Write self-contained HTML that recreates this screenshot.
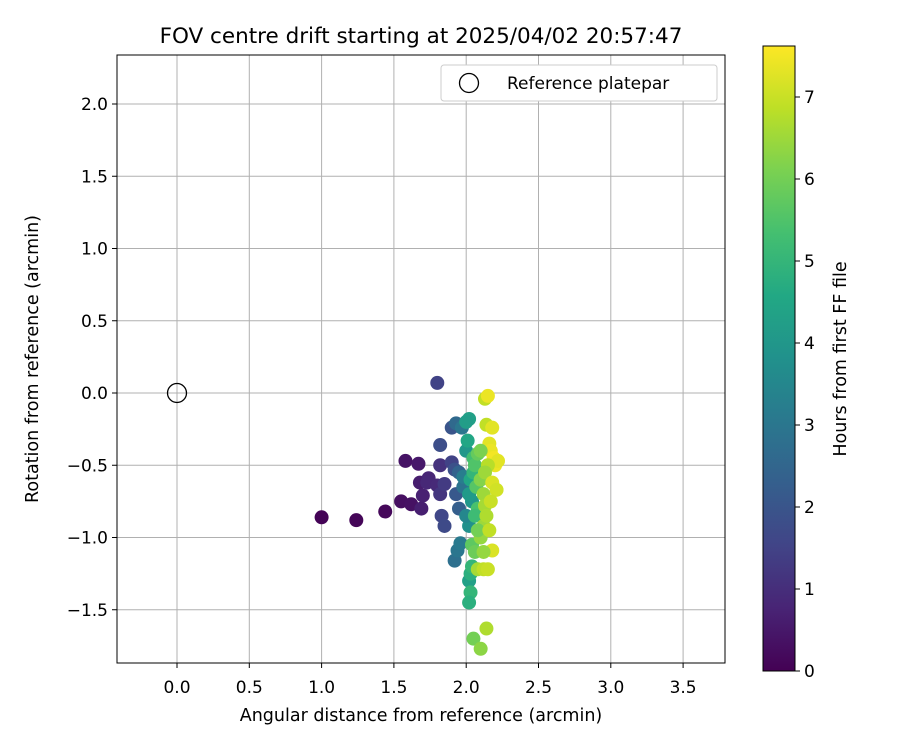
<!DOCTYPE html>
<html><head><meta charset="utf-8"><style>
body{margin:0;background:#fff;font-family:"DejaVu Sans","Liberation Sans",sans-serif}
</style></head><body>
<svg id="chart" width="900" height="750" xmlns="http://www.w3.org/2000/svg" font-family="DejaVu Sans, Liberation Sans, sans-serif">
<defs>
<linearGradient id="vir" x1="0" y1="1" x2="0" y2="0">
<stop offset="0" stop-color="#440154"/><stop offset="0.1" stop-color="#482475"/><stop offset="0.2" stop-color="#414487"/><stop offset="0.3" stop-color="#355f8d"/><stop offset="0.4" stop-color="#2a788e"/><stop offset="0.5" stop-color="#21918c"/><stop offset="0.6" stop-color="#22a884"/><stop offset="0.7" stop-color="#44bf70"/><stop offset="0.8" stop-color="#7ad151"/><stop offset="0.9" stop-color="#bddf26"/><stop offset="1" stop-color="#fde725"/>
</linearGradient>
</defs>
<text x="421" y="43" text-anchor="middle" font-size="21.5">FOV centre drift starting at 2025/04/02 20:57:47</text>
<g id="grid"></g>
<g id="marks"></g>
<rect x="117" y="55" width="608" height="608" fill="none" stroke="#000" stroke-width="1"/>
<g id="ticks"></g>
<text x="421" y="721" text-anchor="middle" font-size="17.5">Angular distance from reference (arcmin)</text>
<text transform="translate(38,359) rotate(-90)" text-anchor="middle" font-size="17.5">Rotation from reference (arcmin)</text>
<g>
<rect x="441" y="65" width="276" height="36" rx="3" fill="#fff" stroke="#ccc"/>
<circle cx="469" cy="83" r="9.5" fill="none" stroke="#000" stroke-width="1.3"/>
<text x="507" y="89" font-size="17">Reference platepar</text>
</g>
<rect x="763" y="46" width="32" height="625" fill="url(#vir)" stroke="#000" stroke-width="1"/>
<g id="cticks"></g>
<text transform="translate(846,359) rotate(-90)" text-anchor="middle" font-size="17.5">Hours from first FF file</text>
</svg>
<script>
const xTicks=[0.0,0.5,1.0,1.5,2.0,2.5,3.0,3.5];
const yTicks=[2.0,1.5,1.0,0.5,0.0,-0.5,-1.0,-1.5];
const cTicks=[0,1,2,3,4,5,6,7];
const xs=[1.00,1.24,1.44,1.55,1.58,1.62,1.67,1.68,1.70,1.69,1.74,1.73,1.80,1.82,1.82,1.80,1.82,1.85,1.83,1.85,1.90,1.90,1.92,1.93,1.93,1.95,1.95,1.92,1.94,1.96,1.97,1.98,1.98,2.00,2.02,2.00,2.01,2.02,2.00,2.02,2.03,2.03,2.02,2.04,2.04,2.02,2.03,2.05,2.05,2.06,2.07,2.08,2.06,2.04,2.06,2.08,2.05,2.10,2.14,2.08,2.12,2.15,2.18,2.10,2.12,2.10,2.12,2.13,2.13,2.15,2.14,2.18,2.16,2.17,2.19,2.20,2.22,2.15,2.13,2.18,2.21,2.17,2.14,2.10,2.08,2.16,2.12];
const ys=[-0.86,-0.88,-0.82,-0.75,-0.47,-0.77,-0.49,-0.62,-0.71,-0.80,-0.59,-0.62,-0.64,-0.50,-0.70,0.07,-0.36,-0.63,-0.85,-0.92,-0.48,-0.24,-0.53,-0.70,-0.21,-0.55,-0.80,-1.16,-1.09,-1.04,-0.24,-0.65,-0.58,-0.40,-0.18,-0.20,-0.33,-0.92,-0.85,-1.30,-1.25,-1.38,-1.45,-1.20,-0.75,-0.70,-0.60,-0.55,-0.45,-0.50,-0.65,-0.80,-0.85,-1.05,-1.10,-0.42,-1.70,-1.77,-1.63,-1.22,-1.22,-1.22,-1.09,-1.00,-0.92,-0.60,-0.70,-0.78,-0.04,-0.02,-0.22,-0.24,-0.35,-0.40,-0.45,-0.50,-0.47,-0.50,-0.55,-0.62,-0.67,-0.75,-0.85,-0.40,-0.95,-0.95,-1.10];
const hours=[0.05,0.1,0.15,0.3,0.4,0.35,0.5,0.6,0.7,0.65,0.8,0.85,0.9,1.1,1.2,1.5,1.8,1.3,1.6,1.7,1.5,2.0,1.9,2.1,2.6,2.4,2.3,2.8,3.0,3.1,3.0,2.9,3.2,4.0,4.3,4.2,4.5,3.8,3.5,4.3,4.8,5.0,4.8,5.0,4.0,4.1,4.5,5.0,5.3,5.5,5.6,5.4,5.2,5.7,5.9,5.8,6.0,6.3,6.7,6.6,6.9,7.0,7.2,6.4,6.5,6.2,6.5,6.6,6.9,7.4,6.9,7.3,7.3,7.4,7.5,7.4,7.3,6.8,6.5,7.2,7.1,7.0,6.7,6.1,6.0,6.9,6.4];
const X=v=>177+(v-0)*144.6, Y=v=>393-v*144.5, C=v=>671-v*82;
const VS=[[68,1,84],[72,36,117],[65,68,135],[53,95,141],[42,120,142],[33,145,140],[34,168,132],[68,191,112],[122,209,81],[189,223,38],[253,231,37]];
function vir(t){t=Math.max(0,Math.min(1,t))*10;const i=Math.min(9,Math.floor(t)),f=t-i;const a=VS[i],b=VS[i+1];return `rgb(${a.map((c,k)=>Math.round(c+(b[k]-c)*f)).join(',')})`;}
const NS='http://www.w3.org/2000/svg';
function mk(t,a,p){const e=document.createElementNS(NS,t);for(const k in a)e.setAttribute(k,a[k]);p.appendChild(e);return e;}
const g=document.getElementById('grid'),tk=document.getElementById('ticks'),m=document.getElementById('marks'),ct=document.getElementById('cticks');
xTicks.forEach(v=>{const x=X(v);
const l=mk('line',{x1:x,x2:x,y1:55,y2:663,stroke:'#b0b0b0','stroke-width':1},g);


mk('line',{x1:x,x2:x,y1:663,y2:668,stroke:'#000'},tk);
const t=mk('text',{x:x,y:693,'text-anchor':'middle','font-size':17},tk);t.textContent=v.toFixed(1);

});
yTicks.forEach(v=>{const y=Y(v);
const l=mk('line',{x1:117,x2:725,y1:y,y2:y,stroke:'#b0b0b0','stroke-width':1},g);


mk('line',{x1:112,x2:117,y1:y,y2:y,stroke:'#000'},tk);
const t=mk('text',{x:108,y:y+6,'text-anchor':'end','font-size':17},tk);t.textContent=(v<0?'\u2212':'')+Math.abs(v).toFixed(1);

});
xs.forEach((v,i)=>{const c=mk('circle',{cx:X(v),cy:Y(ys[i]),r:7,fill:vir(hours[i]/7.62)},m);

});
const ref=mk('circle',{cx:X(0),cy:Y(0),r:9.5,fill:'none',stroke:'#000','stroke-width':1.3},m);


cTicks.forEach(v=>{const y=C(v);mk('line',{x1:795,x2:800,y1:y,y2:y,stroke:'#000'},ct);
const t=mk('text',{x:804,y:y+6,'font-size':17},ct);t.textContent=v;

});
</script>
</body></html>
